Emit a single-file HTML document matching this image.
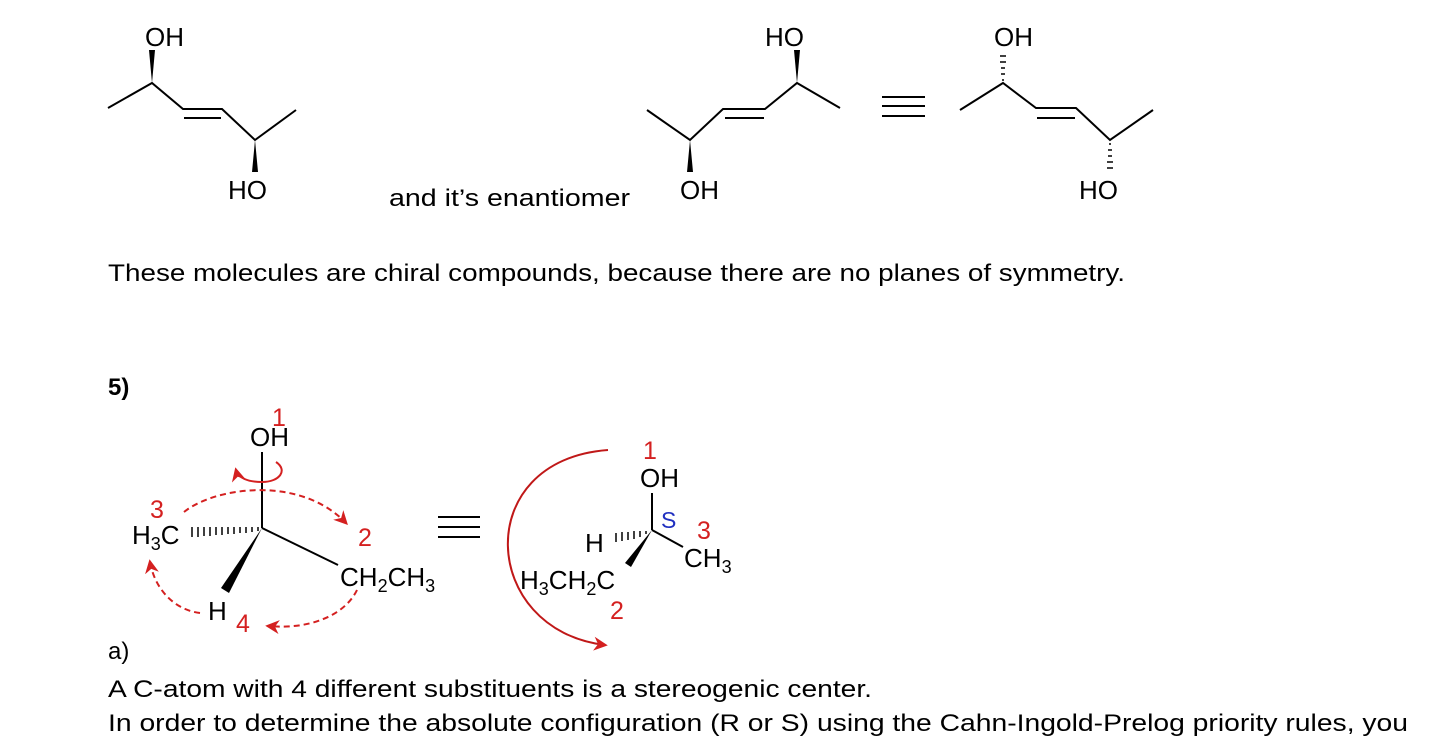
<!DOCTYPE html>
<html><head><meta charset="utf-8"><style>
html,body{margin:0;padding:0;background:#fff;}
svg{display:block;}
.t{font-family:"Liberation Sans",sans-serif;font-size:24px;fill:#000;}
.c{font-family:"Liberation Sans",sans-serif;font-size:26px;fill:#000;}
.r{font-family:"Liberation Sans",sans-serif;font-size:25px;fill:#d42020;}
</style></head><body>
<svg width="1456" height="746" viewBox="0 0 1456 746" xmlns="http://www.w3.org/2000/svg">
<defs>
<marker id="ah" viewBox="0 0 10 10" refX="8" refY="5" markerWidth="7" markerHeight="7" orient="auto"><path d="M0,0 L10,5 L0,10 L3,5 z" fill="#d42020"/></marker>
</defs>
<g stroke="#000" stroke-width="2" fill="none">
<polyline points="108,108 152,83 183,109 222,109 255,140 296,110"/>
<line x1="184" y1="118" x2="221" y2="118"/>
<polyline points="647,110 690,140 723,109 765,109 797,83 840,108"/>
<line x1="725" y1="118" x2="764" y2="118"/>
<polyline points="960,110 1003,83 1036,108 1076,108 1110,140 1153,110"/>
<line x1="1037" y1="118" x2="1075" y2="118"/>
<line x1="882" y1="97" x2="925" y2="97"/><line x1="882" y1="106" x2="925" y2="106"/><line x1="882" y1="116" x2="925" y2="116"/>
<line x1="438" y1="517" x2="480" y2="517"/><line x1="438" y1="527" x2="480" y2="527"/><line x1="438" y1="537" x2="480" y2="537"/>
<line x1="262" y1="528" x2="262" y2="452"/>
<line x1="262" y1="528" x2="338" y2="565"/>
<line x1="652" y1="493" x2="652" y2="530"/>
<line x1="652" y1="530" x2="683" y2="547"/>
</g>
<g fill="#000">
<polygon points="152,83 149,50 155,50"/>
<polygon points="255,140 252,172 258,172"/>
<polygon points="690,140 687,172 693,172"/>
<polygon points="797,83 794,50 800,50"/>
<polygon points="262,528 221,588 229,593"/>
<polygon points="652,530 625,563 631,567"/>
</g>
<g stroke="#000" stroke-width="1.5">
<line x1="1002" y1="80" x2="1004" y2="80"/><line x1="1001" y1="74" x2="1005" y2="74"/><line x1="1001" y1="68" x2="1005" y2="68"/><line x1="1000" y1="62" x2="1006" y2="62"/><line x1="1000" y1="56" x2="1006" y2="56"/>
<line x1="1109" y1="144" x2="1111" y2="144"/><line x1="1108" y1="150" x2="1112" y2="150"/><line x1="1108" y1="156" x2="1112" y2="156"/><line x1="1107" y1="162" x2="1113" y2="162"/><line x1="1107" y1="168" x2="1113" y2="168"/>
</g>
<g stroke="#000" stroke-width="1.5">
<line x1="258" y1="527" x2="258" y2="531"/><line x1="252" y1="527" x2="252" y2="532"/><line x1="246" y1="527" x2="246" y2="533"/><line x1="240" y1="527" x2="240" y2="533"/><line x1="234" y1="527" x2="234" y2="534"/><line x1="228" y1="527" x2="228" y2="534"/><line x1="222" y1="527" x2="222" y2="535"/><line x1="216" y1="527" x2="216" y2="535"/><line x1="210" y1="527" x2="210" y2="536"/><line x1="204" y1="527" x2="204" y2="536"/><line x1="198" y1="527" x2="198" y2="537"/><line x1="192" y1="527" x2="192" y2="537"/>
<line x1="646" y1="531" x2="646" y2="534"/><line x1="640" y1="531" x2="640" y2="537"/><line x1="634" y1="531" x2="634" y2="539"/><line x1="628" y1="532" x2="628" y2="540"/><line x1="622" y1="532" x2="622" y2="541"/><line x1="616" y1="533" x2="616" y2="542"/>
</g>
<g stroke="#d42020" stroke-width="2" fill="none">
<path d="M184,512 C215,487 300,475 346,523" stroke-dasharray="6,4" marker-end="url(#ah)"/>
<path d="M357,590 C345,615 310,630 268,626" stroke-dasharray="6,4" marker-end="url(#ah)"/>
<path d="M200,613 C175,610 155,590 150,562" stroke-dasharray="6,4" marker-end="url(#ah)"/>
<path d="M276,462 C288,470 280,482 262,482 C248,482 238,478 236,470" marker-end="url(#ah)"/>
<path d="M608,450 C470,460 480,630 605,645" stroke="#c01818" marker-end="url(#ah)"/>
</g>
<text class="c" x="145" y="46">OH</text>
<text class="c" x="228" y="199">HO</text>
<text class="c" x="680" y="199">OH</text>
<text class="c" x="765" y="46">HO</text>
<text class="c" x="994" y="46">OH</text>
<text class="c" x="1079" y="199">HO</text>
<text class="c" x="250" y="446">OH</text>
<text class="c" x="132" y="544">H<tspan font-size="18" dy="6">3</tspan><tspan dy="-6">C</tspan></text>
<text class="c" x="340" y="586">CH<tspan font-size="18" dy="6">2</tspan><tspan dy="-6">CH</tspan><tspan font-size="18" dy="6">3</tspan></text>
<text class="c" x="208" y="620">H</text>
<text class="c" x="640" y="487">OH</text>
<text class="c" x="585" y="552">H</text>
<text class="c" x="684" y="567">CH<tspan font-size="18" dy="6">3</tspan></text>
<text class="c" x="520" y="589">H<tspan font-size="18" dy="6">3</tspan><tspan dy="-6">CH</tspan><tspan font-size="18" dy="6">2</tspan><tspan dy="-6">C</tspan></text>
<text class="r" x="272" y="426">1</text>
<text class="r" x="150" y="518">3</text>
<text class="r" x="358" y="546">2</text>
<text class="r" x="236" y="632">4</text>
<text class="r" x="643" y="459">1</text>
<text class="r" x="697" y="539">3</text>
<text class="r" x="610" y="619">2</text>
<text x="661" y="528" font-family="Liberation Sans,sans-serif" font-size="23" fill="#2030c0">S</text>
<text class="t" x="389" y="206" textLength="241" lengthAdjust="spacingAndGlyphs">and it’s enantiomer</text>
<text class="t" x="108" y="281" textLength="1017" lengthAdjust="spacingAndGlyphs">These molecules are chiral compounds, because there are no planes of symmetry.</text>
<text class="t" x="108" y="395" font-weight="bold">5)</text>
<text class="t" x="108" y="659">a)</text>
<text class="t" x="108" y="697" textLength="764" lengthAdjust="spacingAndGlyphs">A C-atom with 4 different substituents is a stereogenic center.</text>
<text class="t" x="108" y="731" textLength="1300" lengthAdjust="spacingAndGlyphs">In order to determine the absolute configuration (R or S) using the Cahn-Ingold-Prelog priority rules, you</text>
</svg>
</body></html>
